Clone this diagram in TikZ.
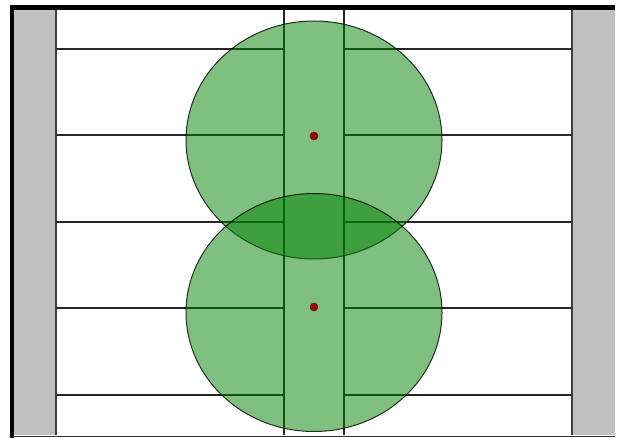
\documentclass[tikz,border=0pt]{standalone}
\definecolor{zonegreen}{RGB}{0,128,0}
\definecolor{bargray}{RGB}{192,192,192}
\definecolor{dotred}{RGB}{150,0,0}
\tikzset{
  road/.style={line width=1.4pt, draw=black!85},
  edge/.style={line width=1.5pt, draw=black!75},
  zone/.style={fill=zonegreen, fill opacity=0.5, draw=black, draw opacity=0.8, line width=1pt},
  sensor/.style={circle, fill=dotred, draw=black!60!red, line width=0.4pt, inner sep=0pt, minimum size=8pt}
}
\begin{document}
\begin{tikzpicture}[x=1pt,y=-1pt]
\useasboundingbox (0,0) rectangle (620,438);
\fill[white] (0,0) rectangle (620,438);
% gray side bars
\fill[bargray] (14,10) rectangle (56,435);
\fill[bargray] (572,10) rectangle (615,435);
\draw[edge] (56,10) -- (56,435);
\draw[edge] (572,10) -- (572,435);
% horizontal lines
\foreach \yy in {49,135,222,308,395} {
  \draw[road] (56,\yy) -- (284,\yy);
  \draw[road] (344,\yy) -- (572,\yy);
}
% vertical strip
\draw[road] (284,10) -- (284,435);
\draw[road] (344,10) -- (344,435);
% frame
\fill[black] (9.5,5) rectangle (615,10);
\fill[black] (9.5,5) rectangle (14,437.5);
\draw[line width=1.5pt, black!80] (9.5,436.5) -- (615,436.5);
% coverage zones
\draw[zone] (314,140) ellipse [x radius=128, y radius=119];
\draw[zone] (314,312.5) ellipse [x radius=128, y radius=119];
% sensors
\node[sensor] (s1) at (314,136) {};
\node[sensor] (s2) at (314,307) {};
\end{tikzpicture}
\end{document}
